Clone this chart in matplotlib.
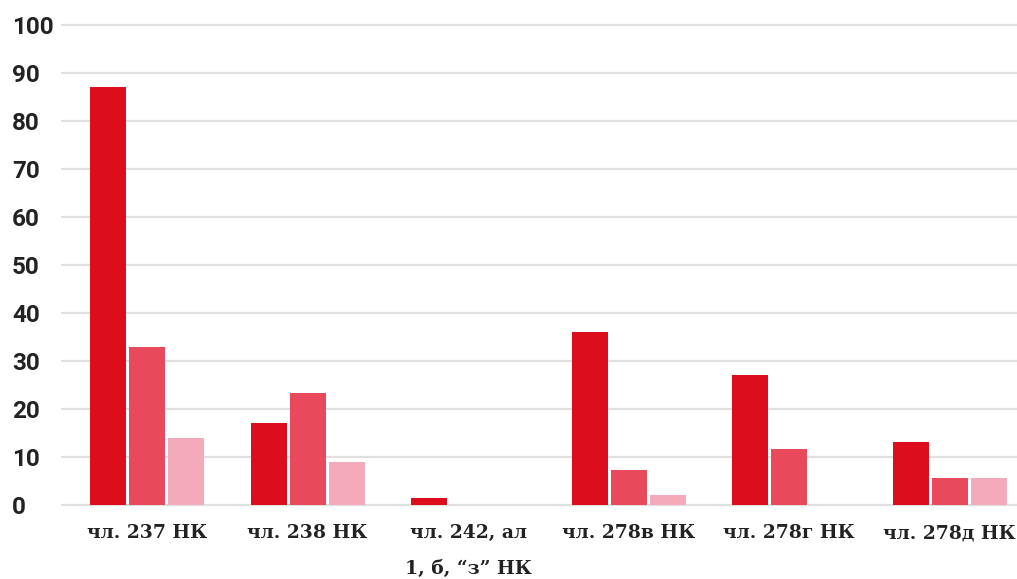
import matplotlib
matplotlib.use("Agg")
import matplotlib.pyplot as plt
import numpy as np

categories = ["чл. 237 НК", "чл. 238 НК", "чл. 242, ал\n1, б, “з” НК",
              "чл. 278в НК", "чл. 278г НК", "чл. 278д НК"]
series_a = [87, 17, 1.5, 36, 27.1, 13.1]
series_b = [33, 23.3, 0, 7.3, 11.7, 5.6]
series_c = [14, 9, 0, 2.1, 0, 5.6]
yticks = [0, 10, 20, 30, 40, 50, 60, 70, 80, 90, 100]

colors = ["#DC0E1C", "#E8495B", "#F4AABA"]

W, H = 1017, 579
fig = plt.figure(figsize=(W / 100, H / 100), dpi=100)
ax_left, ax_right = 62, 1017
ax_bottom, ax_top = 505, 25
ax = fig.add_axes([ax_left / W, (H - ax_bottom) / H,
                   (ax_right - ax_left) / W, (ax_bottom - ax_top) / H])

x = np.arange(len(categories))
bw = 0.224
step = 0.243
for i, (vals, c) in enumerate(zip([series_a, series_b, series_c], colors)):
    ax.bar(x + (i - 1) * step, vals, width=bw, color=c, zorder=3, linewidth=0)

ax.set_xlim(-0.53, 5.42)
ax.set_ylim(0, 100)
ax.set_yticks(yticks)
ax.set_yticklabels([str(v) for v in yticks])
ax.yaxis.grid(True, color="#E0E0E0", linewidth=1.6, zorder=0)
for lbl in ax.get_yticklabels():
    lbl.set_horizontalalignment("left")
    lbl.set_fontfamily("Roboto")
    lbl.set_fontweight("bold")
    lbl.set_fontsize(17.5)
    lbl.set_color("#222222")
ax.tick_params(axis="y", length=0, pad=36)

ax.set_xticks(x)
ax.set_xticklabels(categories, fontfamily="DejaVu Serif", fontweight="bold",
                   fontsize=13.5, color="#222222", linespacing=2.25)
ax.tick_params(axis="x", length=0, pad=14)

for s in ax.spines.values():
    s.set_visible(False)
for gl in ax.get_ygridlines():
    gl.set_clip_on(False)

fig.savefig("out.png", dpi=100, facecolor="white")
